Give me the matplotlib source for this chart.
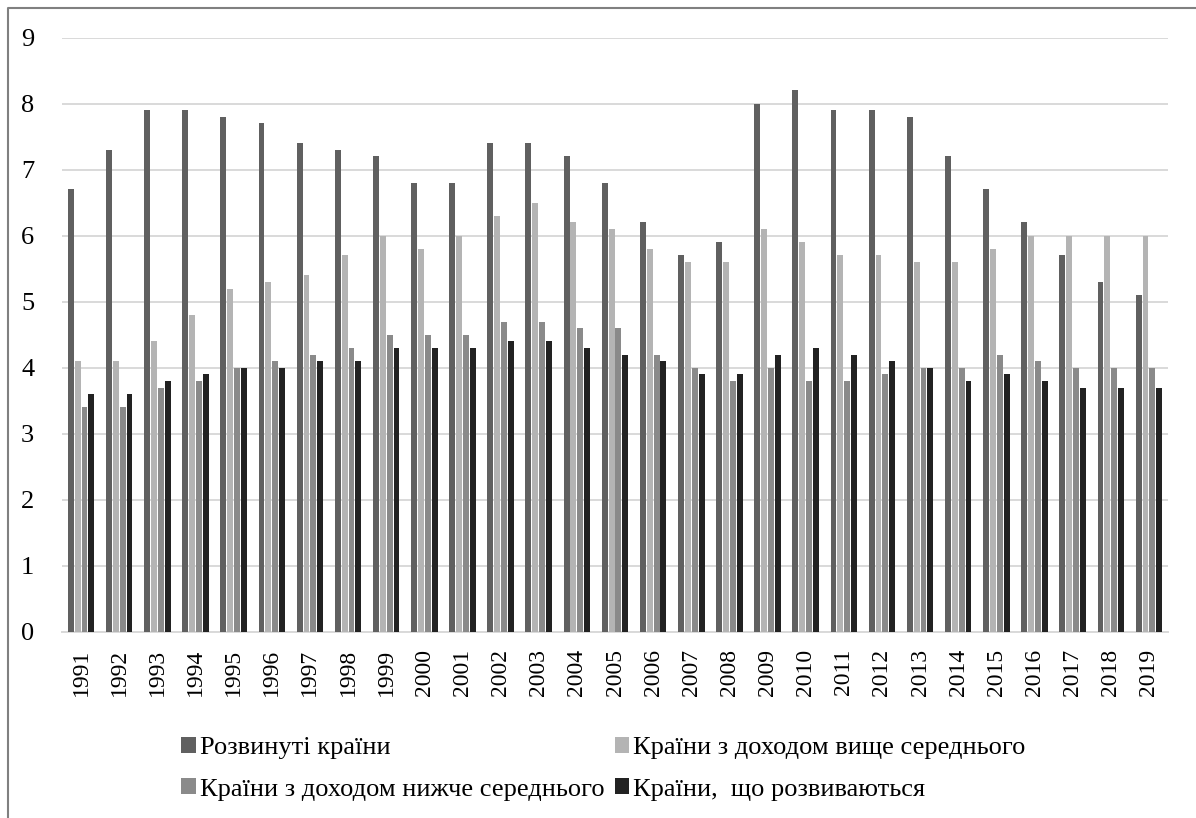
import matplotlib
matplotlib.use("Agg")
import matplotlib.pyplot as plt
import numpy as np
from matplotlib.lines import Line2D
from matplotlib.patches import Patch

years = [str(y) for y in range(1991, 2020)]
developed = [6.7, 7.3, 7.9, 7.9, 7.8, 7.7, 7.4, 7.3, 7.2, 6.8, 6.8, 7.4, 7.4, 7.2, 6.8,
             6.2, 5.7, 5.9, 8.0, 8.2, 7.9, 7.9, 7.8, 7.2, 6.7, 6.2, 5.7, 5.3, 5.1]
upper_middle = [4.1, 4.1, 4.4, 4.8, 5.2, 5.3, 5.4, 5.7, 6.0, 5.8, 6.0, 6.3, 6.5, 6.2, 6.1,
                5.8, 5.6, 5.6, 6.1, 5.9, 5.7, 5.7, 5.6, 5.6, 5.8, 6.0, 6.0, 6.0, 6.0]
lower_middle = [3.4, 3.4, 3.7, 3.8, 4.0, 4.1, 4.2, 4.3, 4.5, 4.5, 4.5, 4.7, 4.7, 4.6, 4.6,
                4.2, 4.0, 3.8, 4.0, 3.8, 3.8, 3.9, 4.0, 4.0, 4.2, 4.1, 4.0, 4.0, 4.0]
developing = [3.6, 3.6, 3.8, 3.9, 4.0, 4.0, 4.1, 4.1, 4.3, 4.3, 4.3, 4.4, 4.4, 4.3, 4.2,
              4.1, 3.9, 3.9, 4.2, 4.3, 4.2, 4.1, 4.0, 3.8, 3.9, 3.8, 3.7, 3.7, 3.7]
series_names = ["Розвинуті країни", "Країни з доходом вище середнього",
                "Країни з доходом нижче середнього", "Країни,  що розвиваються"]
series_values = [developed, upper_middle, lower_middle, developing]
colors = ["#606060", "#b4b4b4", "#8a8a8a", "#222222"]
yticks = list(range(0, 10))

plt.rcParams['font.family'] = ['Liberation Serif', 'DejaVu Serif']

W, H = 1196, 818
fig = plt.figure(figsize=(W / 100, H / 100), dpi=100)
ax = fig.add_axes([62 / W, 1 - 632 / H, (1168 - 62) / W, (632 - 37.5) / H])

n = len(years)
x = np.arange(n)
pitch = 0.18
bw = 0.155
for i, (vals, c) in enumerate(zip(series_values, colors)):
    ax.bar(x + (i - 1.5) * pitch, vals, width=bw, color=c, linewidth=0,
           label=series_names[i], zorder=3)

ax.set_xlim(-0.5, n - 0.5)
ax.set_ylim(0, 9)
ax.set_yticks(yticks)
ax.set_yticklabels([str(t) for t in yticks], fontsize=19)
ax.set_xticks(x)
ax.set_xticklabels(years, rotation=90, fontsize=17)
ax.tick_params(axis='both', length=0)
ax.tick_params(axis='y', pad=20)
ax.tick_params(axis='x', pad=12)
ax.grid(axis='y', color="#d9d9d9", linewidth=1.4, zorder=0)
for s in ["top", "right", "left"]:
    ax.spines[s].set_visible(False)
ax.spines["bottom"].set_color("#d9d9d9")
ax.spines["bottom"].set_linewidth(1.4)

handles = [Patch(facecolor=c, edgecolor='none') for c in colors]
order = [0, 2, 1, 3]  # row-wise fill for 2 columns
fig.legend([handles[k] for k in order], [series_names[k] for k in order],
           ncol=2, loc="upper left",
           bbox_to_anchor=(168 / W, 1 - 724 / H), frameon=False, fontsize=19,
           handlelength=0.55, handleheight=0.55, handletextpad=0.15,
           columnspacing=0.4, labelspacing=0.72, borderpad=0)

# outer frame (top and left visible)
fig.add_artist(Line2D([8 / W, 8 / W, 1.0], [0.0, 1 - 8 / H, 1 - 8 / H],
                      transform=fig.transFigure, color="#808080", linewidth=1.5))

fig.savefig("out.png", dpi=100)
